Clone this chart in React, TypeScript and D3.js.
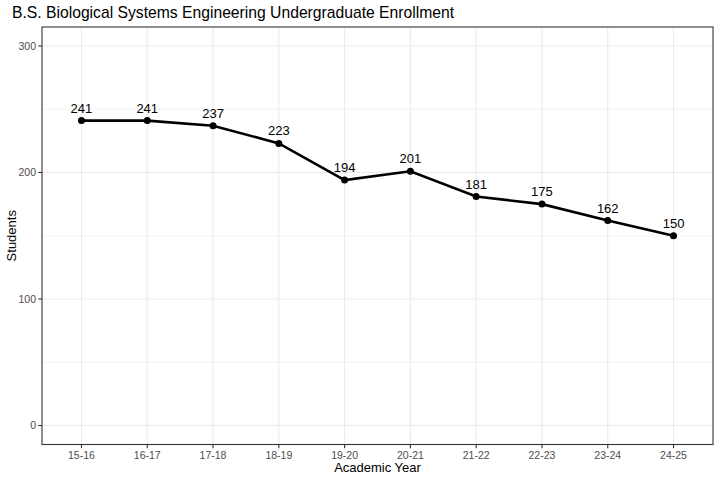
import React from "react";
import * as d3 from "d3";

const categories = ["15-16", "16-17", "17-18", "18-19", "19-20", "20-21", "21-22", "22-23", "23-24", "24-25"];
const students = [241, 241, 237, 223, 194, 201, 181, 175, 162, 150];
const yTicks = [0, 100, 200, 300];
const yMinor = [50, 150, 250];

const W = 720, H = 480;
const left = 42, right = 713, top = 27, bottom = 444.5;

export default function App() {
  const x = d3.scalePoint<string>().domain(categories).range([left, right]).padding(0.6);
  const y = d3.scaleLinear().domain([-15, 315]).range([bottom, top]);
  const line = d3.line<number>().x((_, i) => x(categories[i])!).y((d) => y(d));
  const font = "Liberation Sans, Arial, sans-serif";
  return (
    <svg width={W} height={H} style={{ position: "absolute", left: 0, top: 0, background: "#fff" }} fontFamily={font}>
      <rect x={0} y={0} width={W} height={H} fill="#fff" />
      <text x={12} y={18} fontSize={15.7} fill="#000">B.S. Biological Systems Engineering Undergraduate Enrollment</text>
      {yMinor.map((v) => (
        <line key={"m" + v} x1={left} x2={right} y1={y(v)} y2={y(v)} stroke="#EBEBEB" strokeWidth={0.6} />
      ))}
      {yTicks.map((v) => (
        <line key={"g" + v} x1={left} x2={right} y1={y(v)} y2={y(v)} stroke="#EBEBEB" strokeWidth={1.1} />
      ))}
      {categories.map((c) => (
        <line key={"v" + c} x1={x(c)} x2={x(c)} y1={top} y2={bottom} stroke="#EBEBEB" strokeWidth={1.1} />
      ))}
      <rect x={left} y={top} width={right - left} height={bottom - top} fill="none" stroke="#333" strokeWidth={1.1} />
      {yTicks.map((v) => (
        <g key={"t" + v}>
          <line x1={left - 3.7} x2={left} y1={y(v)} y2={y(v)} stroke="#333" strokeWidth={1.1} />
          <text x={left - 6} y={y(v)} dy="0.35em" textAnchor="end" fontSize={10.5} fill="#4D4D4D">{v}</text>
        </g>
      ))}
      {categories.map((c) => (
        <g key={"xt" + c}>
          <line x1={x(c)} x2={x(c)} y1={bottom} y2={bottom + 3.7} stroke="#333" strokeWidth={1.1} />
          <text x={x(c)} y={bottom + 14} textAnchor="middle" fontSize={10.5} fill="#4D4D4D">{c}</text>
        </g>
      ))}
      <text x={(left + right) / 2} y={472} textAnchor="middle" fontSize={13} fill="#000">Academic Year</text>
      <text transform={`translate(15.5,${(top + bottom) / 2}) rotate(-90)`} textAnchor="middle" fontSize={13} fill="#000">Students</text>
      <path d={line(students)!} fill="none" stroke="#000" strokeWidth={2.6} />
      {students.map((v, i) => (
        <g key={"p" + i}>
          <circle cx={x(categories[i])} cy={y(v)} r={3.5} fill="#000" />
          <text x={x(categories[i])} y={y(v) - 8} textAnchor="middle" fontSize={13} fill="#000">{v}</text>
        </g>
      ))}
    </svg>
  );
}
